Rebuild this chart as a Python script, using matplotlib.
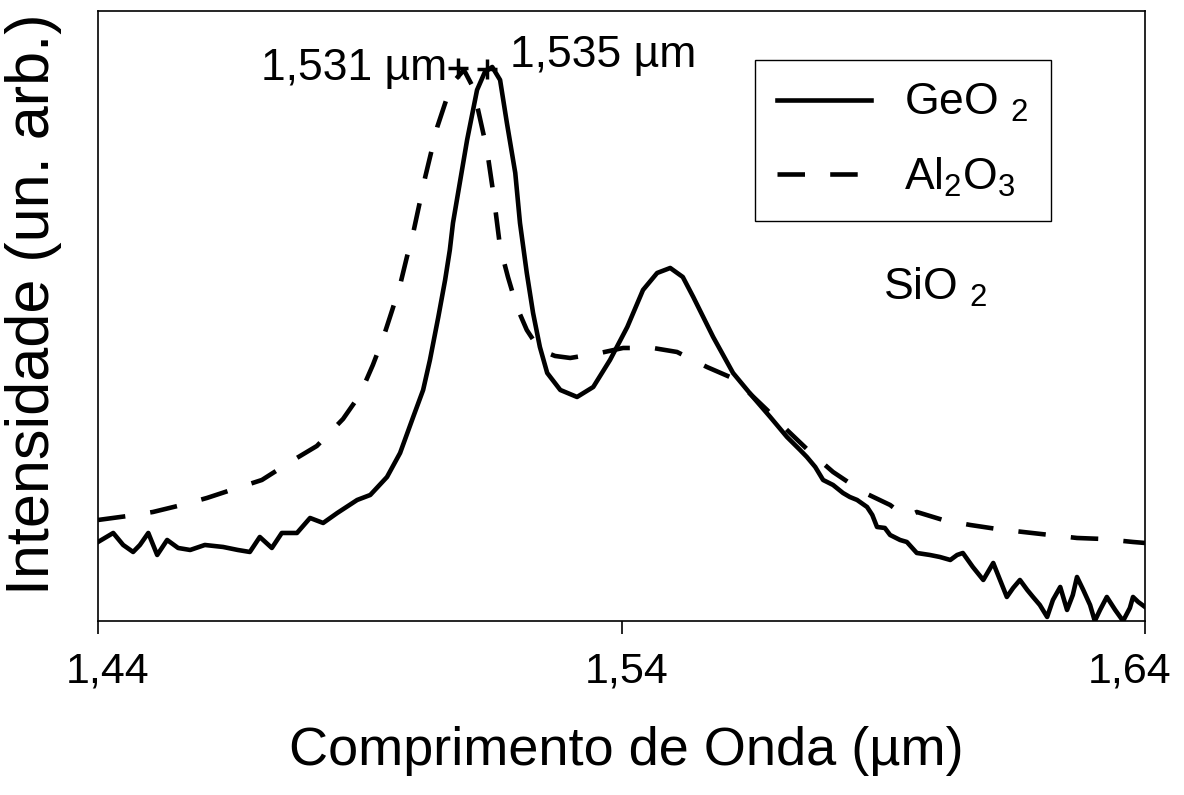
import matplotlib
matplotlib.use('Agg')
import matplotlib.pyplot as plt
import matplotlib.transforms as mtransforms

plt.rcParams['font.family'] = ['Liberation Sans', 'DejaVu Sans']
plt.rcParams['mathtext.fontset'] = 'custom'
plt.rcParams['mathtext.rm'] = 'Liberation Sans'
plt.rcParams['mathtext.it'] = 'Liberation Sans:italic'
plt.rcParams['mathtext.bf'] = 'Liberation Sans:bold'

# Emission spectrum, GeO2 co-doped fibre (wavelength in um, intensity arb. units)
geo2_wl = [1.4400, 1.4429, 1.4448, 1.4467, 1.4480, 1.4496, 1.4513, 1.4532,
           1.4553, 1.4576, 1.4604, 1.4639, 1.4667, 1.4690, 1.4709, 1.4732,
           1.4751, 1.4780, 1.4805, 1.4830, 1.4857, 1.4895, 1.4920, 1.4952,
           1.4977, 1.5002, 1.5021, 1.5034, 1.5050, 1.5063, 1.5072, 1.5078,
           1.5092, 1.5105, 1.5124, 1.5139, 1.5153, 1.5168, 1.5181, 1.5197,
           1.5206, 1.5219, 1.5231, 1.5244, 1.5258, 1.5283, 1.5315, 1.5346,
           1.5378, 1.5411, 1.5441, 1.5468, 1.5493, 1.5517, 1.5537, 1.5575,
           1.5613, 1.5651, 1.5684, 1.5716, 1.5741, 1.5754, 1.5770, 1.5785,
           1.5804, 1.5823, 1.5836, 1.5850, 1.5869, 1.5879, 1.5888, 1.5903,
           1.5913, 1.5932, 1.5945, 1.5964, 1.5989, 1.6008, 1.6028, 1.6041,
           1.6052, 1.6071, 1.6091, 1.6110, 1.6123, 1.6136, 1.6148, 1.6161,
           1.6175, 1.6186, 1.6199, 1.6213, 1.6224, 1.6238, 1.6251, 1.6262,
           1.6270, 1.6282, 1.6295, 1.6304, 1.6314, 1.6327, 1.6343, 1.6358,
           1.6371, 1.6377, 1.6387, 1.6400]
geo2_int = [7.9, 8.8, 7.6, 6.9, 7.6, 8.8, 6.6, 8.1,
            7.3, 7.1, 7.6, 7.4, 7.1, 6.9, 8.4, 7.3,
            8.8, 8.8, 10.3, 9.8, 10.8, 12.1, 12.6, 14.4,
            16.8, 20.4, 23.1, 26.1, 30.4, 34.1, 37.1, 39.8,
            44.1, 48.1, 53.1, 54.9, 55.4, 54.1, 49.8, 44.8,
            39.8, 34.8, 30.8, 27.4, 24.8, 23.1, 22.4, 23.4,
            26.1, 29.4, 33.1, 34.8, 35.3, 34.4, 32.4, 28.4,
            24.8, 22.4, 20.4, 18.4, 17.1, 16.4, 15.4, 14.1,
            13.6, 12.8, 12.4, 12.1, 11.4, 10.6, 9.4, 9.3,
            8.6, 8.1, 7.9, 6.8, 6.6, 6.4, 6.1, 6.6,
            6.8, 5.4, 4.1, 5.8, 4.1, 2.4, 3.3, 4.1,
            3.1, 2.4, 1.6, 0.4, 2.1, 3.4, 1.1, 2.6,
            4.4, 3.1, 1.6, 0.0, 1.1, 2.4, 1.1, 0.0,
            1.3, 2.4, 1.9, 1.4]

# Emission spectrum, Al2O3 co-doped fibre
al2o3_wl = [1.4400, 1.4457, 1.4505, 1.4560, 1.4608, 1.4666, 1.4713, 1.4767,
            1.4818, 1.4868, 1.4900, 1.4925, 1.4944, 1.4962, 1.4977, 1.4990,
            1.5002, 1.5025, 1.5048, 1.5067, 1.5082, 1.5099, 1.5114, 1.5126,
            1.5143, 1.5155, 1.5168, 1.5183, 1.5200, 1.5219, 1.5244, 1.5273,
            1.5302, 1.5359, 1.5403, 1.5460, 1.5506, 1.5563, 1.5607, 1.5632,
            1.5678, 1.5716, 1.5760, 1.5804, 1.5861, 1.5913, 1.5938, 1.5951,
            1.5964, 1.6014, 1.6066, 1.6117, 1.6167, 1.6218, 1.6270, 1.6320,
            1.6377, 1.6400]
al2o3_int = [10.1, 10.5, 10.9, 11.6, 12.3, 13.3, 14.1, 15.9,
             17.5, 20.2, 22.6, 25.6, 28.2, 31.1, 33.6, 36.4,
             38.8, 44.4, 49.4, 52.4, 54.1, 55.1, 53.6, 51.1,
             47.1, 42.8, 37.4, 34.4, 31.4, 29.1, 27.1, 26.5,
             26.3, 26.8, 27.3, 27.3, 26.9, 25.4, 24.4, 23.4,
             21.1, 19.1, 16.9, 14.9, 12.9, 11.6, 10.6, 10.6,
             10.9, 10.1, 9.6, 9.2, 8.9, 8.6, 8.3, 8.2,
             7.9, 7.8]

# peak markers (Al2O3, GeO2)
peak_wl = [1.5088, 1.5143]
peak_int = [55.3, 55.2]
peak_labels = ['1,531 µm', '1,535 µm']

x_ticks = [1.44, 1.54, 1.64]
x_tick_labels = ['1,44', '1,54', '1,64']

fig = plt.figure(figsize=(11.84, 7.95), dpi=100)
ax = fig.add_axes([0.0828, 0.2189, 0.8843, 0.7673])

ax.plot(geo2_wl, geo2_int, color='black', lw=3.3, label='GeO $_2$')
dashed, = ax.plot(al2o3_wl, al2o3_int, color='black', lw=3.3,
                  label='Al$_2$O$_3$')
dashed.set_dashes((6, 5.5))
ax.plot(peak_wl, peak_int, linestyle='none', marker='+', markersize=14,
        markeredgewidth=2.5, color='black')

ax.text(1.5067, 54.1, peak_labels[0], fontsize=32, ha='right',
        va='baseline')
ax.text(1.5187, 55.4, peak_labels[1], fontsize=32, ha='left',
        va='baseline')
ax.text(1.5900, 32.1, 'SiO $_2$', fontsize=32, ha='left', va='baseline')

ax.set_xlim(1.44, 1.64)
ax.set_ylim(0, 61)
ax.set_xticks(x_ticks)
ax.set_xticklabels(x_tick_labels)
ax.tick_params(axis='x', direction='out', length=9, width=1.2,
               labelsize=31, pad=13)
ax.tick_params(axis='y', left=False, labelleft=False)
for spine in ax.spines.values():
    spine.set_linewidth(1.2)

# nudge the end labels inwards so they stay inside the figure
for lab, dx in zip(ax.get_xticklabels(), [10, 5, -15]):
    lab.set_transform(lab.get_transform() +
                      mtransforms.ScaledTranslation(dx / 100.0, 0,
                                                    fig.dpi_scale_trans))

ax.set_xlabel('Comprimento de Onda (µm)', fontsize=39)
ax.xaxis.set_label_coords(0.505, -0.172)
ax.set_ylabel('Intensidade (un. arb.)', fontsize=44)
ax.yaxis.set_label_coords(-0.034, 0.52)

leg = ax.legend(loc='upper left', bbox_to_anchor=(0.6275, 0.9197),
                borderaxespad=0, fontsize=32, handlelength=2.1,
                handletextpad=0.75, labelspacing=0.7, borderpad=0.5,
                fancybox=False, framealpha=1)
leg.get_frame().set_edgecolor('black')
leg.get_frame().set_linewidth(1.0)

fig.savefig('out.png', dpi=100)
